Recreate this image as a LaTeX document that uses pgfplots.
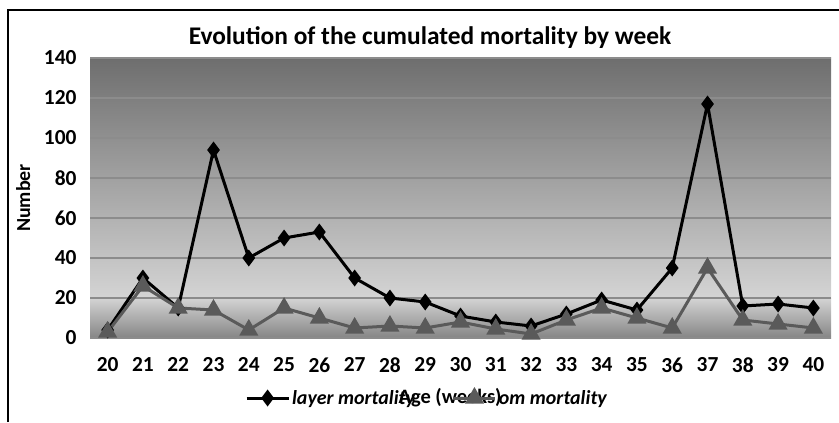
\documentclass[border=0pt]{standalone}
\usepackage{fontspec}
\setmainfont{Carlito}
\usepackage{pgfplots}
\pgfplotsset{compat=1.18}
\definecolor{gtop}{HTML}{6E6E6E}
\definecolor{gmid}{HTML}{D4D4D4}
\definecolor{gbot}{HTML}{858585}
\definecolor{gridc}{HTML}{8C8C8C}
\definecolor{ser2}{HTML}{5A5A5A}
\begin{document}
\begin{tikzpicture}[x=1bp,y=1bp]
\begin{axis}[
  set layers,
  at={(90bp,84bp)}, anchor=south west,
  scale only axis, width=741bp, height=280bp,
  xmin=19.5, xmax=40.5, ymin=0, ymax=140,
  xtick={20,...,40}, ytick={0,20,...,140},
  /pgf/number format/assume math mode=true,
  ticklabel style={font=\fontsize{21.5}{24}\selectfont\bfseries},
  xticklabel style={yshift=-16bp},
  yticklabel style={xshift=-10bp},
  major tick length=0pt,
  axis line style={draw=none},
  ymajorgrids, grid style={gridc, line width=1.2bp},
  ylabel={Number},
  ylabel style={font=\fontsize{20}{22}\selectfont\bfseries, at={(axis description cs:-0.09,0.5)}, anchor=center},
  xlabel={Age (weeks)},
  xlabel style={font=\fontsize{20.5}{22}\selectfont\bfseries, at={(axis description cs:0.486,0)}, anchor=center, yshift=-60bp},
  legend columns=2,
  legend style={draw=none, fill=none, at={(axis description cs:0.205,0)}, anchor=west, yshift=-60bp,
    font=\fontsize{20}{22}\selectfont\bfseries\itshape,
    /tikz/every even column/.append style={column sep=35bp}},
  legend image code/.code={\draw[mark repeat=2,mark phase=2] plot coordinates {(0bp,0bp)(21bp,0bp)(42bp,0bp)};},
]
\begin{pgfonlayer}{axis background}
\fill[top color=gtop, bottom color=gmid] (axis cs:19.5,20) rectangle (axis cs:40.5,140);
\fill[top color=gmid, bottom color=gbot] (axis cs:19.5,0) rectangle (axis cs:40.5,20);
\end{pgfonlayer}
\addplot[black, line width=3bp, mark=diamond*, mark size=6bp, mark options={solid}] coordinates {
(20,4) (21,30) (22,15) (23,94) (24,40) (25,50) (26,53) (27,30) (28,20) (29,18) (30,11)
(31,8) (32,6) (33,12) (34,19) (35,14) (36,35) (37,117) (38,16) (39,17) (40,15)};
\addlegendentry{layer mortality}
\addplot[ser2, line width=3bp, mark=triangle*, mark size=8bp, mark options={solid}] coordinates {
(20,3) (21,26) (22,15) (23,14) (24,4) (25,15) (26,10) (27,5) (28,6) (29,5) (30,8)
(31,4.5) (32,2) (33,9) (34,15) (35,10) (36,5) (37,35) (38,9) (39,7) (40,5)};
\addlegendentry{om mortality}
\end{axis}
\draw[line width=2.5bp,black] (8,0) -- (8,412) -- (839,412);
\node[font=\fontsize{25.5}{28}\selectfont\bfseries] at (430,384) {Evolution of the cumulated mortality by week};
\pgfresetboundingbox
\useasboundingbox (0,0) rectangle (839,422);
\end{tikzpicture}
\end{document}
